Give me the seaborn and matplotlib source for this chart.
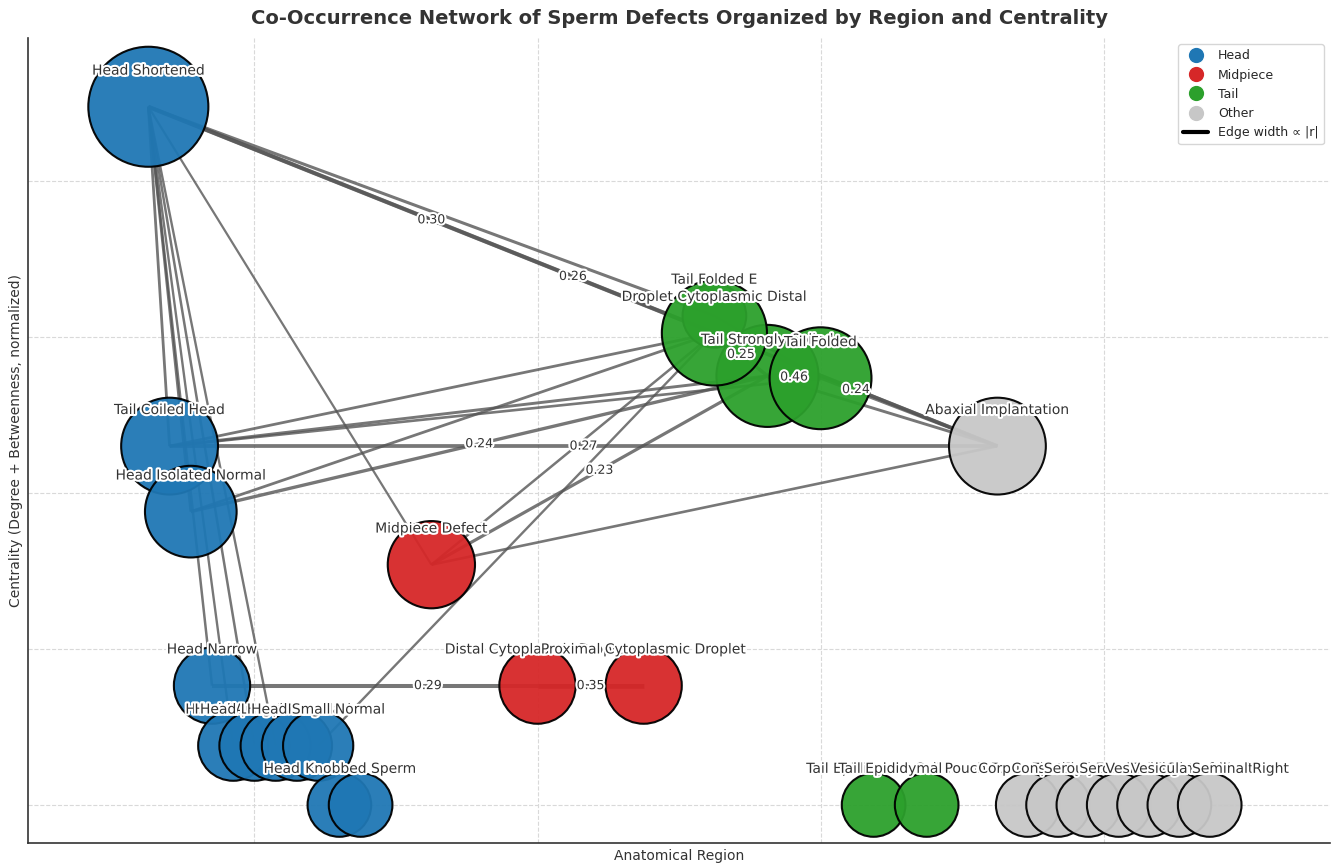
import numpy as np
import pandas as pd
import matplotlib
matplotlib.use("Agg")
import matplotlib.pyplot as plt
import matplotlib.patheffects as pe
from matplotlib.lines import Line2D
import seaborn as sns

# regions on the x axis
regions = ["Head", "Midpiece", "Tail", "Other"]
region_colors = ["#1f77b4", "#d62728", "#2ca02c", "#c7c7c7"]
region_slots = [11, 3, 5, 8]

# nodes (drawing order)
node_names = [
    "Head Shortened", "Tail Coiled Head", "Head Isolated Normal", "Head Narrow",
    "Head Tapered", "Head Amorphous", "Head Large Abnormal", "Head Irregular",
    "Head Small Normal", "Head Knobbed Sperm", "Knobbed Sperm",
    "Midpiece Defect", "Distal Cytoplasmic Droplet", "Proximal Cytoplasmic Droplet",
    "Tail Strongly Coiled", "Tail Folded E", "Droplet Cytoplasmic Distal", "Tail Folded",
    "Tail Epididymal Coil", "Tail Epididymal Immature",
    "Abaxial Implantation", "Pouch Formation Defect", "Corpus Epididymis Left",
    "Consistency Testicular", "Serous Exudate Right", "Serous Exudate Left",
    "Vesicula Seminal Left", "Vesicula Seminal Right",
]
node_region = (["Head"] * 11 + ["Midpiece"] * 3 + ["Tail"] * 6 + ["Other"] * 8)
node_slot = [0, 1, 2, 3, 4, 5, 6, 7, 8, 9, 10,
             0, 1, 2,
             1, 0, 0, 2, 3, 4,
             0, 1, 2, 3, 4, 5, 6, 7]
node_centrality = [0.895, 0.460, 0.376, 0.153, 0.076, 0.076, 0.076, 0.076, 0.076, 0.0, 0.0,
                   0.308, 0.153, 0.153,
                   0.550, 0.627, 0.605, 0.547, 0.0, 0.0,
                   0.460, 0.0, 0.0, 0.0, 0.0, 0.0, 0.0, 0.0]
node_weight = [0.895, 0.460, 0.376, 0.153, 0.076, 0.076, 0.076, 0.076, 0.076, 0.0, 0.0,
               0.308, 0.153, 0.153,
               0.550, 0.0, 0.605, 0.547, 0.0, 0.0,
               0.460, 0.0, 0.0, 0.0, 0.0, 0.0, 0.0, 0.0]

# edges: source, target, |r|
edge_src = ["Head Shortened", "Head Shortened", "Head Shortened", "Head Shortened",
            "Head Shortened", "Head Shortened", "Head Shortened", "Head Shortened",
            "Head Shortened", "Head Shortened",
            "Tail Coiled Head", "Tail Coiled Head", "Tail Coiled Head", "Tail Coiled Head",
            "Head Isolated Normal", "Head Isolated Normal",
            "Midpiece Defect", "Midpiece Defect", "Midpiece Defect",
            "Head Small Normal", "Head Narrow", "Distal Cytoplasmic Droplet",
            "Droplet Cytoplasmic Distal", "Tail Strongly Coiled", "Droplet Cytoplasmic Distal",
            "Tail Strongly Coiled", "Tail Folded", "Tail Folded E"]
edge_dst = ["Droplet Cytoplasmic Distal", "Tail Folded E", "Abaxial Implantation",
            "Tail Coiled Head", "Head Isolated Normal", "Head Narrow", "Head Tapered",
            "Head Amorphous", "Head Large Abnormal", "Midpiece Defect",
            "Abaxial Implantation", "Droplet Cytoplasmic Distal", "Tail Strongly Coiled",
            "Tail Folded",
            "Tail Strongly Coiled", "Droplet Cytoplasmic Distal",
            "Tail Strongly Coiled", "Droplet Cytoplasmic Distal", "Abaxial Implantation",
            "Droplet Cytoplasmic Distal", "Proximal Cytoplasmic Droplet",
            "Proximal Cytoplasmic Droplet",
            "Tail Strongly Coiled", "Tail Folded", "Abaxial Implantation",
            "Abaxial Implantation", "Abaxial Implantation", "Tail Folded"]
edge_r = [0.30, 0.22, 0.26, 0.20, 0.19, 0.18, 0.17, 0.18, 0.17, 0.16,
          0.27, 0.20, 0.21, 0.19,
          0.24, 0.20,
          0.23, 0.18, 0.19,
          0.17, 0.29, 0.35,
          0.25, 0.46, 0.24,
          0.21, 0.20, 0.21]

# layout: region index + spread within region
xs = []
for reg, slot in zip(node_region, node_slot):
    ri = regions.index(reg)
    xs.append(ri + np.linspace(-0.375, 0.375, region_slots[ri])[slot])

nodes = pd.DataFrame({"name": node_names, "region": node_region, "x": xs,
                      "y": node_centrality, "weight": node_weight})
pos = {n: (x, y) for n, x, y in zip(nodes["name"], nodes["x"], nodes["y"])}

sns.set_style("whitegrid")
plt.rcParams["font.family"] = ["DejaVu Sans"]

fig, ax = plt.subplots(figsize=(13.36, 8.66), dpi=100)
fig.subplots_adjust(left=0.021, right=0.9955, bottom=0.0266, top=0.956)

halo = [pe.withStroke(linewidth=3, foreground="white")]

# edges
for s, t, r in zip(edge_src, edge_dst, edge_r):
    (x1, y1), (x2, y2) = pos[s], pos[t]
    ax.plot([x1, x2], [y1, y2], color="#555555", alpha=0.8, lw=abs(r) * 10,
            solid_capstyle="butt", zorder=1)
    if abs(r) >= 0.23:
        ax.text((x1 + x2) / 2, (y1 + y2) / 2, f"{r:.2f}", fontsize=9, color="#333333",
                ha="center", va="center", zorder=6, path_effects=halo)

# nodes
sns.scatterplot(data=nodes, x="x", y="y", hue="region", hue_order=regions,
                palette=dict(zip(regions, region_colors)), size="weight",
                sizes=(2100, 7470), size_norm=(0, 0.895), edgecolor="black",
                linewidth=1.5, alpha=0.95, legend=False, ax=ax, zorder=2)

# node labels
for n, x, y in zip(nodes["name"], nodes["x"], nodes["y"]):
    ax.annotate(n, (x, y), xytext=(0, 26), textcoords="offset points",
                ha="center", va="center", fontsize=10, color="#333333",
                path_effects=halo, zorder=7)

ax.set_xlim(-0.8, 3.8)
ax.set_ylim(-0.0487, 0.983)
ax.set_xticks([0, 1, 2, 3])
ax.set_yticks([0, 0.2, 0.4, 0.6, 0.8])
ax.set_xticklabels([])
ax.set_yticklabels([])
ax.tick_params(length=0)
ax.grid(True, linestyle="--", color="#d9d9d9", linewidth=0.8)
sns.despine(ax=ax)
for sp in ["left", "bottom"]:
    ax.spines[sp].set_color("#333333")
    ax.spines[sp].set_linewidth(1.2)

ax.set_xlabel("Anatomical Region", fontsize=10, color="#333333", labelpad=1)
ax.set_ylabel("Centrality (Degree + Betweenness, normalized)", fontsize=10,
              color="#333333", labelpad=0)
ax.set_title("Co-Occurrence Network of Sperm Defects Organized by Region and Centrality",
             fontsize=14, fontweight="bold", color="#333333", pad=10)

handles = [Line2D([0], [0], marker="o", color="w", markerfacecolor=c, markersize=12,
                  label=r) for r, c in zip(regions, region_colors)]
handles.append(Line2D([0], [0], color="black", lw=3, label="Edge width \u221d |r|"))
ax.legend(handles=handles, loc="upper right", fontsize=9, frameon=True)

fig.savefig("out.png", dpi=100)
